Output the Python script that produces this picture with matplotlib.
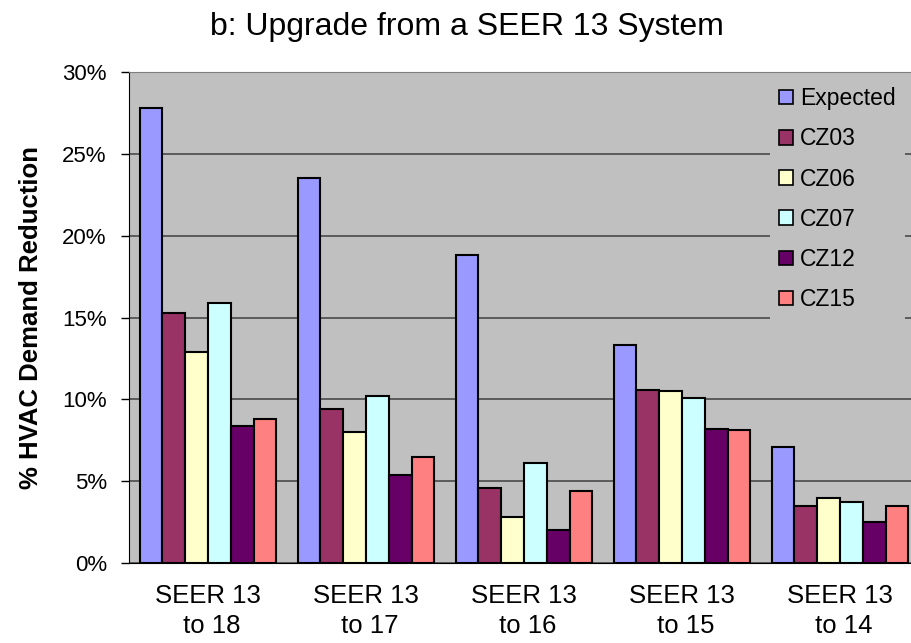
import numpy as np
import matplotlib
matplotlib.use('Agg')
import matplotlib.pyplot as plt
from matplotlib.ticker import FuncFormatter

plt.rcParams['font.family'] = ['Liberation Sans', 'DejaVu Sans']

# data (% HVAC demand reduction)
categories = ['SEER 13\n to 18', 'SEER 13\n to 17', 'SEER 13\n to 16', 'SEER 13\n to 15', 'SEER 13\n to 14']
series = ['Expected', 'CZ03', 'CZ06', 'CZ07', 'CZ12', 'CZ15']
expected = [27.8, 23.5, 18.8, 13.3, 7.1]
cz03 = [15.3, 9.4, 4.6, 10.6, 3.5]
cz06 = [12.9, 8.0, 2.8, 10.5, 4.0]
cz07 = [15.9, 10.2, 6.1, 10.1, 3.7]
cz12 = [8.4, 5.4, 2.0, 8.2, 2.5]
cz15 = [8.8, 6.5, 4.4, 8.1, 3.5]
values = [expected, cz03, cz06, cz07, cz12, cz15]
colors = ['#9999FF', '#993366', '#FFFFCC', '#CCFFFF', '#660066', '#FF8080']

fig = plt.figure(figsize=(9.11, 6.43), dpi=100)
# plot area runs past the right edge of the picture, like the original
ax = fig.add_axes([129/911, 1-563/643, 790/911, 491/643])
ax.set_facecolor('#C0C0C0')

x = np.arange(len(categories))
w = 0.144
for i, (name, vals) in enumerate(zip(series, values)):
    ax.bar(x + (i - 2.5)*w, vals, w, color=colors[i], edgecolor='black',
           linewidth=1.5, label=name, zorder=3)

ax.set_xlim(-0.5, 4.5)
ax.set_ylim(0, 30)
ax.set_yticks(np.arange(0, 31, 5))
ax.yaxis.set_major_formatter(FuncFormatter(lambda v, p: '%d%%' % v))
ax.yaxis.grid(True, color='#404040', linewidth=1.1, zorder=0)
ax.set_axisbelow(True)
ax.set_xticks(x)
ax.set_xticklabels(categories, fontsize=18.5, linespacing=1.35)
ax.tick_params(axis='x', length=0, pad=15)
ax.tick_params(axis='y', labelsize=16, length=6, direction='out', width=1, pad=10)

for s in ['top', 'right']:
    ax.spines[s].set_color('#808080')
ax.spines['left'].set_color('black')
ax.spines['bottom'].set_color('black')

ax.set_ylabel('% HVAC Demand Reduction', fontsize=18.5, fontweight='bold', labelpad=14)
fig.text(467/911, 1-35/643, 'b: Upgrade from a SEER 13 System', ha='center', va='baseline', fontsize=23)

leg = ax.legend(loc='upper left', bbox_to_anchor=(770/911, 1-78/643),
                bbox_transform=fig.transFigure, fontsize=16.5, frameon=True,
                handlelength=0.6, handleheight=0.6, handletextpad=0.3,
                labelspacing=0.75, borderpad=0.4, borderaxespad=0, fancybox=False)
leg.get_frame().set_facecolor('#C0C0C0')
leg.get_frame().set_edgecolor('none')
leg.get_frame().set_alpha(1)
for h in leg.legend_handles:
    h.set_linewidth(1.2)

fig.savefig('out.png', dpi=100)
